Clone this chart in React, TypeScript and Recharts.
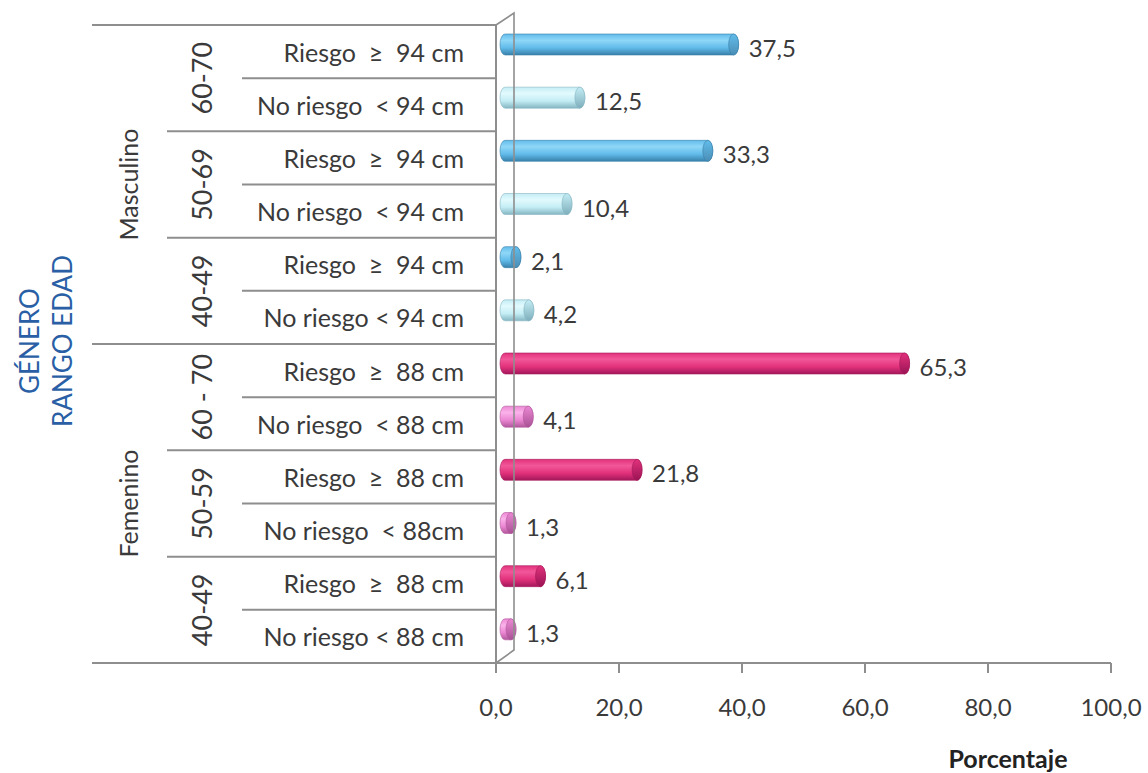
import React from 'react';
import { BarChart, Bar, XAxis, YAxis, LabelList, Label } from 'recharts';

// Row labels from top to bottom
const rowLabels = [
  'Riesgo  ≥  94 cm',
  'No riesgo  < 94 cm',
  'Riesgo  ≥  94 cm',
  'No riesgo  < 94 cm',
  'Riesgo  ≥  94 cm',
  'No riesgo < 94 cm',
  'Riesgo  ≥  88 cm',
  'No riesgo  < 88 cm',
  'Riesgo  ≥  88 cm',
  'No riesgo  < 88cm',
  'Riesgo  ≥  88 cm',
  'No riesgo < 88 cm',
];
const percentages = [37.5, 12.5, 33.3, 10.4, 2.1, 4.2, 65.3, 4.1, 21.8, 1.3, 6.1, 1.3];
const ageGroups = ['60-70', '50-69', '40-49', '60 - 70', '50-59', '40-49'];
const genders = ['Masculino', 'Femenino'];
const xTicks = [0, 20, 40, 60, 80, 100];
const axisTitle = 'Porcentaje';
const sideTitle = ['GÉNERO', 'RANGO EDAD'];

const data = percentages.map((value, i) => ({ id: `r${i}`, value }));

const FONT = 'Lato, "Open Sans", sans-serif';
const TEXT = '#3a3a3a';
const LINE = '#8e8e8e';

const CHART_W = 1148;
const CHART_H = 773;
const TOP = 25;
const BOTTOM_H = 110;
const AXIS_X = 496;
const ROW_H = (CHART_H - BOTTOM_H - TOP) / percentages.length;

type Tone = { light: string; mid: string; dark: string; cap: string };
const maleRisk: Tone = { light: '#8fd7f8', mid: '#62bcea', dark: '#3880aa', cap: '#4a8eb6' };
const maleNoRisk: Tone = { light: '#e2fafd', mid: '#c4edf5', dark: '#84b6c2', cap: '#7eaebb' };
const femRisk: Tone = { light: '#f2579a', mid: '#e2327c', dark: '#a4175a', cap: '#9a1454' };
const femNoRisk: Tone = { light: '#fbb2ea', mid: '#ec88d4', dark: '#b2589c', cap: '#a95195' };

const toneFor = (i: number): Tone => {
  const male = i < 6;
  const risk = i % 2 === 0;
  if (male) return risk ? maleRisk : maleNoRisk;
  return risk ? femRisk : femNoRisk;
};

const fmt = (v: number) => v.toFixed(1).replace('.', ',');

// Cylinder-style horizontal bar
const CylinderBar = (props: any) => {
  const { x, y, width, height, index } = props;
  const tone = toneFor(index);
  const rx = 5;
  const ry = height / 2;
  const top = y - 7;
  const bottom = top + height;
  const x0 = x + 9;
  const x1 = Math.max(x + width + 7, x0 + 1);
  const gid = `cyl-${index}`;
  const cid = `cap-${index}`;
  const d = `M ${x0} ${top} L ${x1} ${top} A ${rx} ${ry} 0 0 1 ${x1} ${bottom} L ${x0} ${bottom} A ${rx} ${ry} 0 0 1 ${x0} ${top} Z`;
  return (
    <g>
      <defs>
        <linearGradient id={gid} x1="0" y1="0" x2="0" y2="1">
          <stop offset="0%" stopColor={tone.mid} />
          <stop offset="30%" stopColor={tone.light} />
          <stop offset="65%" stopColor={tone.mid} />
          <stop offset="100%" stopColor={tone.dark} />
        </linearGradient>
        <linearGradient id={cid} x1="0" y1="0" x2="0" y2="1">
          <stop offset="0%" stopColor={tone.mid} />
          <stop offset="100%" stopColor={tone.cap} />
        </linearGradient>
      </defs>
      <path d={d} fill={`url(#${gid})`} stroke={tone.dark} strokeWidth={0.6} />
      <ellipse cx={x1} cy={top + ry} rx={rx} ry={ry} fill={`url(#${cid})`} stroke={tone.dark} strokeWidth={0.6} />
    </g>
  );
};

const ValueLabel = (props: any) => {
  const { x, y, width, height, value } = props;
  return (
    <text
      x={x + width + 22}
      y={y + height / 2 - 4}
      fill={TEXT}
      fontSize={24}
      fontFamily={FONT}
      dominantBaseline="central"
    >
      {fmt(value)}
    </text>
  );
};

// Category tick with the hierarchical side labels and row separators
const RowTick = (props: any) => {
  const { y, index } = props;
  const rowTop = y - ROW_H / 2;
  const rowBottom = y + ROW_H / 2;
  const sepStart = index % 6 === 5 ? 92 : index % 2 === 1 ? 167 : 242;
  const textStyle = { whiteSpace: 'pre' as const };
  return (
    <g>
      <text
        x={464}
        y={y}
        textAnchor="end"
        dominantBaseline="central"
        fill={TEXT}
        fontSize={25}
        fontFamily={FONT}
        style={textStyle}
      >
        {rowLabels[index]}
      </text>
      <line x1={sepStart} y1={rowBottom} x2={AXIS_X} y2={rowBottom} stroke={LINE} strokeWidth={2} />
      {index % 2 === 0 && (
        <text
          x={0}
          y={0}
          transform={`translate(201, ${rowBottom}) rotate(-90)`}
          textAnchor="middle"
          dominantBaseline="central"
          fill={TEXT}
          fontSize={27}
          fontFamily={FONT}
          style={textStyle}
        >
          {ageGroups[index / 2]}
        </text>
      )}
      {index % 6 === 0 && (
        <text
          x={0}
          y={0}
          transform={`translate(128, ${rowTop + ROW_H * 3}) rotate(-90)`}
          textAnchor="middle"
          dominantBaseline="central"
          fill={TEXT}
          fontSize={25}
          fontFamily={FONT}
        >
          {genders[index / 6]}
        </text>
      )}
      {index === 0 && (
        <g>
          <line x1={92} y1={rowTop} x2={AXIS_X} y2={rowTop} stroke={LINE} strokeWidth={2} />
          <polyline
            points={`${AXIS_X},${rowTop} ${AXIS_X + 18},${rowTop - 12} ${AXIS_X + 18},${rowTop + ROW_H * 12 - 13} ${AXIS_X},${rowTop + ROW_H * 12}`}
            fill="none"
            stroke={LINE}
            strokeWidth={1.6}
          />
          <text
            x={0}
            y={0}
            transform={`translate(47, ${rowTop + ROW_H * 6 - 3}) rotate(-90)`}
            textAnchor="middle"
            fill="#2a5fa6"
            fontSize={26}
            fontFamily={FONT}
          >
            <tspan x={0} dy={-8}>{sideTitle[0]}</tspan>
            <tspan x={0} dy={33}>{sideTitle[1]}</tspan>
          </text>
        </g>
      )}
    </g>
  );
};

const AxisTitle = (props: any) => {
  const { viewBox } = props;
  return (
    <text
      x={viewBox.x + viewBox.width - 103}
      y={viewBox.y + 95}
      textAnchor="middle"
      dominantBaseline="central"
      fill="#222"
      fontWeight="bold"
      fontSize={25}
      fontFamily={FONT}
    >
      {axisTitle}
    </text>
  );
};

export default function App() {
  return (
    <div style={{ position: 'absolute', left: 0, top: 0, width: CHART_W, height: CHART_H, background: '#fff' }}>
      <BarChart
        layout="vertical"
        width={CHART_W}
        height={CHART_H}
        data={data}
        margin={{ top: TOP, right: 37, bottom: 0, left: 0 }}
      >
        <XAxis
          type="number"
          domain={[0, 100]}
          ticks={xTicks}
          tickFormatter={fmt}
          height={BOTTOM_H}
          axisLine={{ stroke: LINE, strokeWidth: 2 }}
          tickLine={{ stroke: LINE, strokeWidth: 2 }}
          tickSize={10}
          tickMargin={26}
          tick={{ fill: TEXT, fontSize: 24, fontFamily: FONT }}
          interval={0}
        >
          <Label content={AxisTitle} />
        </XAxis>
        <YAxis
          type="category"
          dataKey="id"
          width={AXIS_X}
          interval={0}
          tickLine={false}
          axisLine={{ stroke: LINE, strokeWidth: 2 }}
          tick={RowTick}
        />
        <Bar dataKey="value" barSize={21} shape={CylinderBar} isAnimationActive={false}>
          <LabelList dataKey="value" content={ValueLabel} />
        </Bar>
      </BarChart>
    </div>
  );
}
